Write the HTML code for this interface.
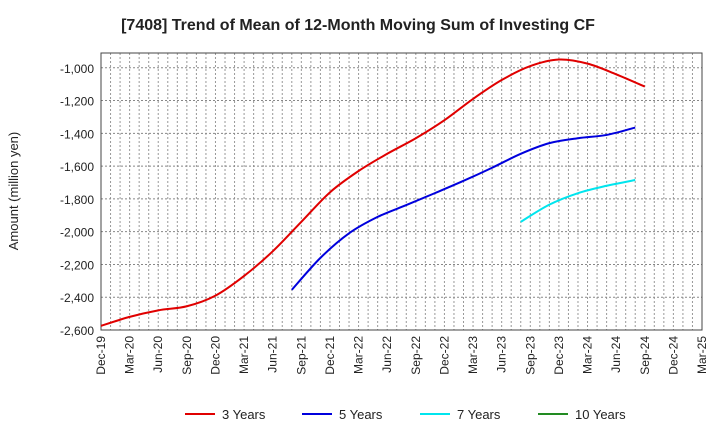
<!DOCTYPE html>
<html><head><meta charset="utf-8"><style>
body{margin:0;background:#fff;font-family:"Liberation Sans",sans-serif}
</style></head><body>
<svg id="c" width="720" height="440" xmlns="http://www.w3.org/2000/svg"></svg>
<script>
const quarters=["Dec-19","Mar-20","Jun-20","Sep-20","Dec-20","Mar-21","Jun-21","Sep-21","Dec-21","Mar-22","Jun-22","Sep-22","Dec-22","Mar-23","Jun-23","Sep-23","Dec-23","Mar-24","Jun-24","Sep-24","Dec-24","Mar-25"];
const yTicks=[-1000,-1200,-1400,-1600,-1800,-2000,-2200,-2400,-2600];
const s3Start=0;
const s3=[-2575,-2520,-2480,-2455,-2390,-2270,-2120,-1940,-1760,-1630,-1525,-1430,-1320,-1190,-1075,-990,-950,-975,-1040,-1115];
const s5Start=6+2/3;
const s5=[-2355,-2160,-2010,-1910,-1838,-1765,-1690,-1610,-1525,-1460,-1430,-1410,-1365];
const s7Start=14+2/3;
const s7=[-1940,-1835,-1765,-1720,-1685];
const s10=[];
const ns="http://www.w3.org/2000/svg";
const svg=document.getElementById('c');
const L=101,R=702,T=53,B=330,yMin=-2600,yMax=-910;
const X=i=>L+(R-L)*i/21;
const Y=v=>B-(v-yMin)/(yMax-yMin)*(B-T);
function el(t,a,p){const e=document.createElementNS(ns,t);for(const k in a)e.setAttribute(k,a[k]);(p||svg).appendChild(e);return e;}
const t=el('text',{x:358,y:30,'text-anchor':'middle','font-size':16,'font-weight':'bold',fill:'#222'});t.textContent="[7408]  Trend of Mean of 12-Month Moving Sum of Investing CF";


for(let m=1;m<63;m++){const x=L+(R-L)*m/63;const g=el('line',{x1:x,x2:x,y1:T,y2:B,stroke:'#999','stroke-dasharray':'2,2','stroke-width':1});

}
yTicks.forEach(v=>{const y=Y(v);const g=el('line',{x1:L,x2:R,y1:y,y2:y,stroke:'#888','stroke-dasharray':'2,2'});


const tx=el('text',{x:L-7,y:y+5,'text-anchor':'end','font-size':12,fill:'#222'});tx.textContent=v.toLocaleString('en-US');

});
quarters.forEach((q,i)=>{const x=X(i);const tx=el('text',{transform:`translate(${x+4},${B+6}) rotate(-90)`,'text-anchor':'end','font-size':12,fill:'#222'});tx.textContent=q;

});
const fr=el('rect',{x:L,y:T,width:R-L,height:B-T,fill:'none',stroke:'#444','stroke-width':1});


const yt=el('text',{transform:'translate(18,191) rotate(-90)','text-anchor':'middle','font-size':13,fill:'#222'});yt.textContent="Amount (million yen)";


function path(vals,start){const p=vals.map((v,i)=>[X(start+i),Y(v)]);if(!p.length)return"";let d=`M${p[0][0]},${p[0][1]}`;
for(let i=0;i<p.length-1;i++){const p0=p[i-1]||p[i],p1=p[i],p2=p[i+1],p3=p[i+2]||p2;
d+=`C${p1[0]+(p2[0]-p0[0])/6},${p1[1]+(p2[1]-p0[1])/6} ${p2[0]-(p3[0]-p1[0])/6},${p2[1]-(p3[1]-p1[1])/6} ${p2[0]},${p2[1]}`;}return d;}
[[s3,s3Start,'#e00000','series-3-years'],[s5,s5Start,'#0000dd','series-5-years'],[s7,s7Start,'#00e5ee','series-7-years'],[s10,0,'#228b22','series-10-years']].forEach(([v,s,c,n])=>{if(!v.length)return;
const last=s+v.length-1;const end=19;const sc=(last>end)?(end-s)/(v.length-1):1;
const p=el('path',{d:path(v,s),fill:'none',stroke:c,'stroke-width':2});

});
const leg=[['3 Years','#e00000',185],['5 Years','#0000dd',302],['7 Years','#00e5ee',420],['10 Years','#228b22',538]];
leg.forEach(([n,c,x])=>{const g=el('g',{});


el('line',{x1:x,x2:x+30,y1:414,y2:414,stroke:c,'stroke-width':2},g);const tx=el('text',{x:x+37,y:419,'font-size':13,fill:'#222'},g);tx.textContent=n;});
</script>
</body></html>
